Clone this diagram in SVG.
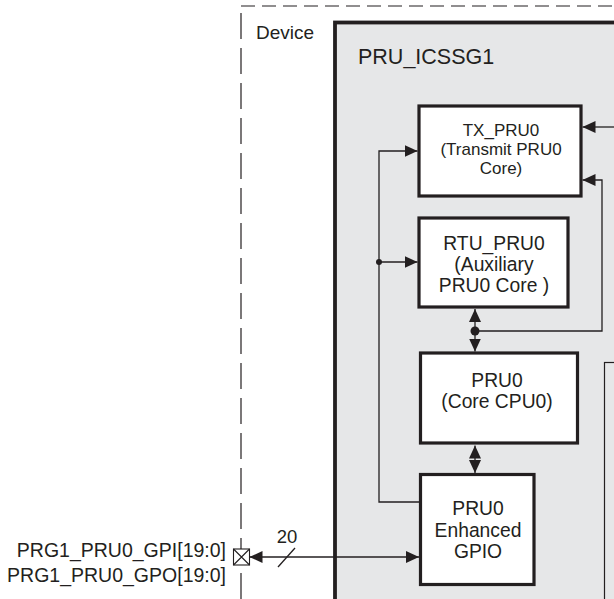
<svg xmlns="http://www.w3.org/2000/svg" width="614" height="599" viewBox="0 0 614 599">
<style>
text{font-family:"Liberation Sans",Arial,sans-serif;fill:#231f20}
.blk{fill:#fff;stroke:#231f20;stroke-width:3.2}
.ln{fill:none;stroke:#231f20;stroke-width:1.3}
.dash{fill:none;stroke:#231f20;stroke-width:1.2}
.c{text-anchor:middle}
</style>
<defs>
<marker id="ah" markerUnits="userSpaceOnUse" markerWidth="13" markerHeight="13" viewBox="0 0 13 13" refX="13" refY="6.5" orient="auto-start-reverse">
<path d="M0,0.5 L13,6.5 L0,12.5 z" fill="#231f20"/>
</marker>
</defs>
<rect width="614" height="599" fill="#fff"/>
<g id="device">
<path class="dash" d="M241,599 V6" stroke-dasharray="26 9"/>
<path class="dash" d="M241,6 H614" stroke-dasharray="14 7"/>
<text x="256" y="39" font-size="19">Device</text>
</g>
<g id="pru_icssg1">
<rect x="335" y="22.5" width="300" height="600" fill="#e6e7e8" stroke="#231f20" stroke-width="3.8"/>
<text x="358" y="64" font-size="21.5">PRU_ICSSG1</text>
</g>
<g id="right_block">
<rect x="604.5" y="362.5" width="40" height="260" fill="none" stroke="#231f20" stroke-width="1.2"/>
</g>
<g id="tx_pru0">
<rect class="blk" x="419" y="106" width="162" height="90"/>
<text class="c" x="501" y="136" font-size="17">TX_PRU0</text>
<text class="c" x="501" y="155" font-size="17">(Transmit PRU0</text>
<text class="c" x="501" y="174" font-size="17">Core)</text>
</g>
<g id="rtu_pru0">
<rect class="blk" x="419" y="218" width="149" height="89"/>
<text class="c" x="494" y="250" font-size="19.3">RTU_PRU0</text>
<text class="c" x="494" y="271" font-size="19.3">(Auxiliary</text>
<text class="c" x="494" y="292" font-size="19.3">PRU0 Core )</text>
</g>
<g id="pru0">
<rect class="blk" x="420.5" y="353" width="157" height="90"/>
<text class="c" x="497" y="387" font-size="19.3">PRU0</text>
<text class="c" x="497" y="408" font-size="19.3">(Core CPU0)</text>
</g>
<g id="gpio">
<rect class="blk" x="420.5" y="474.5" width="113.5" height="110"/>
<text class="c" x="478" y="515" font-size="19.3">PRU0</text>
<text class="c" x="478" y="537" font-size="19.3">Enhanced</text>
<text class="c" x="478" y="558" font-size="19.3">GPIO</text>
</g>
<g id="pin">
<rect x="233.5" y="549" width="16" height="16" fill="#fff" stroke="#231f20" stroke-width="1.1"/>
<path d="M233.5,549 L249.5,565 M249.5,549 L233.5,565" stroke="#231f20" stroke-width="1.1"/>
<text x="226" y="557" font-size="19.5" text-anchor="end">PRG1_PRU0_GPI[19:0]</text>
<text x="226" y="582" font-size="19.5" text-anchor="end">PRG1_PRU0_GPO[19:0]</text>
</g>
<g id="connectors">
<path class="ln" d="M419,502 H379 V151 H417.5" marker-end="url(#ah)"/>
<path class="ln" d="M379,262 H417.5" marker-end="url(#ah)"/>
<circle cx="379" cy="262" r="3" fill="#231f20"/>
<path class="ln" d="M614,127 H582.5" marker-end="url(#ah)"/>
<path class="ln" d="M475,331 H602 V180 H582.5" marker-end="url(#ah)"/>
<path class="ln" d="M475,331 V309" marker-end="url(#ah)"/>
<path class="ln" d="M475,331 V351.5" marker-end="url(#ah)"/>
<circle cx="475" cy="331" r="4.5" fill="#231f20"/>
<path class="ln" d="M475,445.5 V473" marker-start="url(#ah)" marker-end="url(#ah)"/>
<path class="ln" d="M249.5,557 H419" marker-start="url(#ah)" marker-end="url(#ah)"/>
<path class="ln" d="M278,567 L295,548"/>
<text class="c" x="287" y="543" font-size="18.5">20</text>
</g>
</svg>
